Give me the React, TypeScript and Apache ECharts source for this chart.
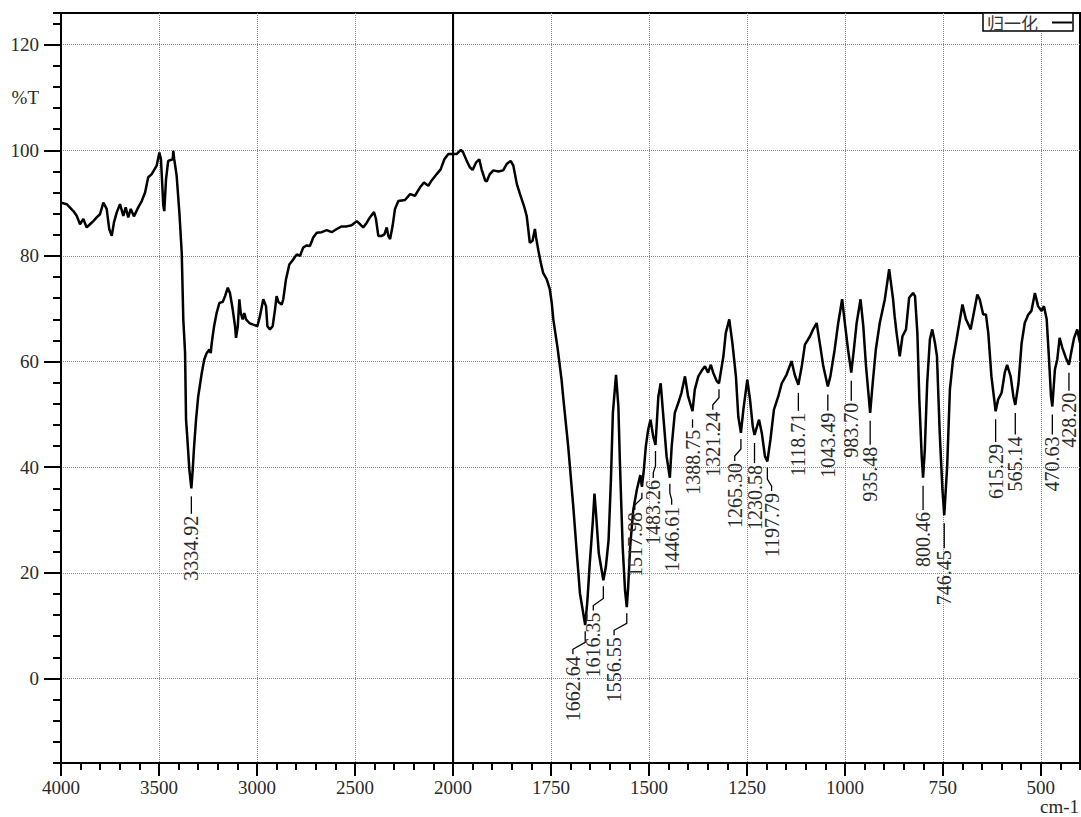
import React, { useEffect, useRef } from 'react';
import * as echarts from 'echarts';

// ---- Spectrum, high wavenumber part (4000 - 2000 cm-1) ----
const wnHigh = [
  4000, 3971, 3937, 3920, 3903, 3886, 3869, 3852, 3835, 3818, 3801, 3784, 3767, 3754, 3741, 3730,
  3716, 3699, 3682, 3670, 3657, 3644, 3628, 3606, 3588, 3571, 3555, 3537, 3512, 3498, 3490, 3478,
  3473, 3464, 3453, 3430, 3427, 3423, 3410, 3396, 3384, 3376, 3367, 3362, 3356, 3345, 3334.92, 3328,
  3321, 3311, 3300, 3282, 3269, 3257, 3243, 3236, 3231, 3219, 3206, 3192, 3175, 3163, 3149, 3138,
  3124, 3112, 3107, 3098, 3090, 3083, 3073, 3065, 3056, 3039, 3019, 2998, 2985, 2968, 2954, 2947,
  2934, 2920, 2908, 2900, 2891, 2874, 2866, 2852, 2835, 2818, 2797, 2781, 2764, 2746, 2730, 2713,
  2695, 2670, 2644, 2619, 2593, 2568, 2542, 2517, 2491, 2474, 2458, 2440, 2424, 2403, 2393, 2381,
  2364, 2350, 2338, 2330, 2321, 2308, 2296, 2279, 2245, 2219, 2194, 2168, 2148, 2126, 2109, 2083,
  2063, 2044, 2024, 2000,
];
const tHigh = [
  90.1, 89.8, 88.5, 87.6, 86.0, 87.0, 85.4, 86.0, 86.6, 87.3, 87.9, 90.1, 88.9, 85.1, 83.8, 86.3,
  88.2, 89.8, 87.6, 89.2, 87.3, 88.9, 87.5, 89.2, 90.4, 92.0, 94.9, 95.5, 97.1, 99.6, 98.3, 89.5,
  88.5, 94.6, 98.0, 98.3, 99.9, 98.5, 95.2, 88.2, 80.6, 68.0, 61.7, 49.0, 45.8, 39.5, 36.0, 39.5,
  43.9, 49.0, 53.4, 57.8, 60.4, 61.6, 62.3, 61.6, 63.5, 66.7, 69.2, 71.1, 71.3, 72.4, 74.0, 73.0,
  69.9, 66.7, 64.5, 66.7, 71.8, 69.2, 68.0, 69.2, 68.0, 67.3, 67.0, 66.7, 68.6, 71.8, 70.5, 66.7,
  66.1, 66.7, 69.9, 72.4, 71.3, 70.8, 71.8, 75.6, 78.4, 79.2, 80.3, 80.0, 81.6, 82.0, 81.9, 83.5,
  84.4, 84.5, 84.9, 84.5, 85.1, 85.6, 85.6, 85.8, 86.6, 86.0, 85.4, 86.3, 87.3, 88.3, 87.0, 83.8,
  83.8, 84.1, 85.4, 83.8, 83.2, 85.7, 88.9, 90.4, 90.6, 91.7, 91.4, 93.0, 93.9, 93.3, 94.3, 95.5,
  96.4, 98.3, 99.3, 99.3,
];

// ---- Spectrum, low wavenumber part (2000 - 400 cm-1) ----
const wnLow = [
  2000, 1991, 1980, 1974, 1965, 1957, 1950, 1941, 1933, 1927, 1918, 1914, 1906, 1897, 1884, 1872,
  1863, 1853, 1846, 1837, 1829, 1819, 1812, 1808, 1804, 1797, 1791, 1788, 1782, 1776, 1770, 1761,
  1753, 1748, 1744, 1733, 1723, 1719, 1706, 1693, 1684, 1676, 1662.64, 1657, 1651, 1643, 1639, 1635,
  1628, 1616.35, 1610, 1603, 1597, 1592, 1584, 1578, 1574, 1567, 1561, 1556.55, 1553, 1548, 1540, 1531,
  1522, 1517.98, 1513, 1508, 1502, 1496, 1489, 1483.26, 1476, 1470, 1464, 1455, 1446.61, 1442, 1434, 1425,
  1417, 1408, 1400, 1388.75, 1383, 1374, 1366, 1357, 1349, 1342, 1336, 1327, 1321.24, 1310, 1304, 1295,
  1287, 1278, 1272, 1265.3, 1259, 1249, 1242, 1235, 1230.58, 1219, 1212, 1204, 1197.79, 1190, 1181, 1170,
  1161, 1149, 1136, 1128, 1118.71, 1110, 1102, 1089, 1081, 1072, 1064, 1055, 1043.49, 1037, 1026, 1017,
  1007, 1000, 992, 983.7, 977, 970, 960, 953, 946, 935.48, 929, 921, 911, 898, 887, 877,
  873, 868, 860, 853, 844, 836, 826, 821, 815, 810, 804, 800.46, 796, 790, 783, 777,
  770, 765, 758, 751, 746.45, 739, 732, 724, 715, 707, 700, 691, 679, 671, 662, 656,
  647, 640, 634, 626, 615.29, 609, 600, 592, 586, 577, 570, 565.14, 557, 549, 541, 532,
  524, 515, 507, 498, 492, 485, 479, 474, 470.63, 464, 458, 452, 445, 436, 428.2, 421,
  415, 407, 400,
];
const tLow = [
  99.3, 99.3, 100.1, 99.6, 98.0, 96.8, 96.3, 97.7, 98.3, 96.4, 94.3, 94.1, 95.5, 96.2, 96.0, 96.2,
  97.4, 98.0, 97.1, 93.6, 91.7, 89.5, 87.6, 85.1, 82.5, 82.9, 85.1, 83.5, 81.0, 78.7, 76.8, 75.6,
  73.7, 71.1, 68.0, 62.5, 56.6, 53.4, 43.9, 32.5, 23.7, 16.1, 10.1, 14.8, 21.8, 30.0, 35.0, 31.2,
  23.7, 18.6, 21.1, 26.2, 37.6, 50.3, 57.5, 51.5, 40.7, 24.9, 16.7, 13.5, 17.3, 24.9, 31.9, 35.7,
  38.5, 36.3, 39.5, 43.9, 47.1, 49.0, 45.8, 44.2, 53.4, 55.9, 50.3, 42.1, 38.0, 43.9, 50.3, 52.2,
  54.1, 57.2, 53.4, 50.6, 54.7, 57.2, 58.2, 59.1, 57.9, 59.4, 57.9, 56.3, 55.9, 61.0, 65.4, 68.0,
  63.5, 57.2, 49.6, 46.5, 50.9, 56.6, 52.8, 47.7, 46.1, 49.0, 46.5, 42.1, 41.1, 45.2, 50.9, 53.4,
  55.9, 57.5, 60.1, 57.5, 55.6, 59.1, 63.2, 64.8, 66.1, 67.3, 63.5, 59.1, 55.3, 57.2, 62.3, 67.3,
  71.8, 67.3, 62.3, 57.9, 62.3, 67.3, 71.8, 66.7, 59.1, 50.3, 55.9, 62.3, 67.3, 71.8, 77.5, 71.8,
  68.6, 65.4, 61.0, 64.8, 66.1, 72.1, 73.0, 72.4, 65.4, 52.8, 42.1, 38.0, 43.3, 55.9, 64.2, 66.1,
  63.5, 61.0, 46.5, 35.7, 30.9, 40.1, 54.7, 60.4, 64.2, 67.7, 70.8, 68.0, 66.1, 69.2, 72.7, 71.8,
  68.9, 68.9, 65.4, 57.2, 50.6, 52.8, 54.1, 57.9, 59.4, 57.2, 53.4, 51.8, 55.9, 63.5, 67.3, 68.9,
  69.6, 73.0, 70.5, 69.6, 70.5, 68.0, 60.4, 53.4, 51.5, 58.5, 60.4, 64.5, 62.6, 60.7, 59.4, 62.3,
  64.5, 66.1, 63.5,
];

// ---- Peak picks ----
const peakWn = [
  3334.92, 1662.64, 1616.35, 1556.55, 1517.98, 1483.26, 1446.61, 1388.75, 1321.24, 1265.3, 1230.58,
  1197.79, 1118.71, 1043.49, 983.7, 935.48, 800.46, 746.45, 615.29, 565.14, 470.63, 428.2,
];
const peakT = [
  36.0, 10.1, 18.6, 13.5, 36.3, 44.2, 38.0, 50.6, 55.9, 46.5, 46.1,
  41.1, 55.6, 55.3, 57.9, 50.3, 38.0, 30.9, 50.6, 51.8, 51.5, 59.4,
];
// where each peak label's text column sits (wavenumber) and where its text ends (%T)
const labelWn = [
  3334.92, 1694, 1642, 1589, 1536, 1489, 1442, 1388.75, 1337, 1281, 1230.58,
  1187, 1118.71, 1043.49, 983.7, 935.48, 800.46, 746.45, 615.29, 565.14, 470.63, 428.2,
];
const labelTopT = [
  30.8, 4.2, 12.5, 7.8, 31.5, 37.6, 32.5, 47.1, 50.5, 40.8, 40.4,
  35.1, 50.3, 50.3, 52.2, 43.9, 31.5, 24.3, 44.4, 45.8, 45.8, 54.1,
];

// ---- Axis ticks ----
const xMajorLow = [2000, 1750, 1500, 1250, 1000, 750, 500];
const yMajor = [0, 20, 40, 60, 80, 100, 120];
const yNameValue = 110;

const FONT = 'Liberation Serif';
const TXT = '#2a2a2a';
const GRIDLINE = { show: true, lineStyle: { color: '#8a8a8a', type: 'dotted' as const, width: 1 } };

function renderPeakLabel(params: any, api: any) {
  const p = api.coord([api.value(0), api.value(1)]);
  const l = api.coord([api.value(2), api.value(3)]);
  const straight = Math.abs(l[0] - p[0]) < 1.5;
  const pts = straight
    ? [[l[0], p[1] + 8], [l[0], l[1] - 2]]
    : [[p[0], p[1] + 6], [p[0], l[1] - 14], [l[0], l[1] - 7], [l[0], l[1] - 2]];
  return {
    type: 'group',
    children: [
      { type: 'polyline', shape: { points: pts }, style: { stroke: '#000', lineWidth: 1.3, fill: 'none' } },
      {
        type: 'text',
        x: l[0],
        y: l[1],
        rotation: Math.PI / 2,
        style: {
          text: Number(api.value(0)).toFixed(2),
          align: 'right',
          verticalAlign: 'middle',
          fontFamily: FONT,
          fontSize: 20,
          fill: TXT,
        },
      },
    ],
  };
}

export default function App() {
  const ref = useRef<HTMLDivElement>(null);
  useEffect(() => {
    if (!ref.current) return;
    const chart = echarts.init(ref.current, undefined, { renderer: 'svg' });
    const highData = wnHigh.map((w, i) => [w, tHigh[i]]);
    const lowData = wnLow.map((w, i) => [w, tLow[i]]);
    const labelsHigh: number[][] = [];
    const labelsLow: number[][] = [];
    peakWn.forEach((w, i) => {
      const row = [w, peakT[i], labelWn[i], labelTopT[i]];
      if (w > 2000) labelsHigh.push(row); else labelsLow.push(row);
    });
    const gridCommon = { top: 13, bottom: 54, show: true, borderColor: '#000', borderWidth: 2, containLabel: false };
    const axisLineX = { show: true, onZero: false, lineStyle: { color: '#000', width: 2 } };
    const tickLabel = { color: TXT, fontFamily: FONT, fontSize: 19, formatter: (v: number) => String(v) };
    chart.setOption({
      animation: false,
      backgroundColor: '#fff',
      grid: [
        { ...gridCommon, left: 61, width: 392 },
        { ...gridCommon, left: 453, width: 627 },
      ],
      xAxis: [
        {
          type: 'value', gridIndex: 0, position: 'bottom', min: 2000, max: 4000, inverse: true, interval: 500,
          axisLine: axisLineX,
          axisTick: { show: true, length: 13, lineStyle: { color: '#000', width: 2 } },
          minorTick: { show: true, splitNumber: 5, length: 7, lineStyle: { color: '#000', width: 2 } },
          axisLabel: { ...tickLabel, margin: 15, showMinLabel: false },
          splitLine: GRIDLINE,
        },
        {
          type: 'value', gridIndex: 1, position: 'bottom', min: 400, max: 2000, inverse: true, interval: 50,
          axisLine: axisLineX,
          axisTick: { show: true, length: 7, lineStyle: { color: '#000', width: 2 } },
          axisLabel: { show: false },
          splitLine: { show: false },
        },
        {
          type: 'value', gridIndex: 1, position: 'bottom', min: 400, max: 2000, inverse: true,
          axisLine: { show: false, onZero: false },
          axisTick: { show: true, length: 13, customValues: xMajorLow, lineStyle: { color: '#000', width: 2 } },
          axisLabel: { ...tickLabel, margin: 15, customValues: xMajorLow },
          splitLine: GRIDLINE,
        },
      ],
      yAxis: [
        {
          type: 'value', gridIndex: 0, position: 'left', min: -16, max: 126,
          axisLine: { show: true, onZero: false, lineStyle: { color: '#000', width: 2 } },
          axisTick: { show: true, length: 17, customValues: yMajor, lineStyle: { color: '#000', width: 2 } },
          axisLabel: {
            ...tickLabel, margin: 22, customValues: [...yMajor, yNameValue],
            formatter: (v: number) => (v === yNameValue ? '%T' : String(v)),
          },
          splitLine: GRIDLINE,
        },
        {
          type: 'value', gridIndex: 0, position: 'left', min: -16, max: 126, interval: 4,
          axisLine: { show: false, onZero: false },
          axisTick: { show: true, length: 8, lineStyle: { color: '#000', width: 2 } },
          axisLabel: { show: false },
          splitLine: { show: false },
        },
        {
          type: 'value', gridIndex: 1, position: 'left', min: -16, max: 126,
          axisLine: { show: true, onZero: false, lineStyle: { color: '#000', width: 1.2 } },
          axisTick: { show: false, customValues: yMajor },
          axisLabel: { show: false, customValues: yMajor },
          splitLine: GRIDLINE,
        },
      ],
      legend: {
        data: [{ name: '归一化', icon: 'rect' }],
        right: 8,
        top: 13,
        align: 'right',
        padding: [1, 1, 0, 4],
        itemWidth: 20,
        itemHeight: 2,
        itemStyle: { color: '#000' },
        borderColor: '#000',
        borderWidth: 1.5,
        backgroundColor: '#fff',
        textStyle: { fontFamily: 'Noto Sans CJK SC', fontSize: 17, color: '#333', padding: [0, 9, 0, 0] },
      },
      graphic: [
        { type: 'text', right: 2, top: 797, style: { text: 'cm-1', fontFamily: FONT, fontSize: 19, fill: TXT } },
      ],
      series: [
        {
          name: '归一化', type: 'line', xAxisIndex: 0, yAxisIndex: 0, data: highData,
          symbol: 'none', showSymbol: false, lineStyle: { color: '#000', width: 2.5 }, itemStyle: { color: '#000' }, z: 3,
        },
        {
          name: '归一化', type: 'line', xAxisIndex: 1, yAxisIndex: 2, data: lowData,
          symbol: 'none', showSymbol: false, lineStyle: { color: '#000', width: 2.5 }, itemStyle: { color: '#000' }, z: 3,
        },
        {
          type: 'custom', xAxisIndex: 0, yAxisIndex: 0, data: labelsHigh, renderItem: renderPeakLabel,
          encode: { x: [0, 2], y: [1, 3] }, z: 4,
        },
        {
          type: 'custom', xAxisIndex: 1, yAxisIndex: 2, data: labelsLow, renderItem: renderPeakLabel,
          encode: { x: [0, 2], y: [1, 3] }, z: 4,
        },
      ],
    });
    return () => chart.dispose();
  }, []);
  return <div ref={ref} style={{ position: 'absolute', left: 0, top: 0, width: 1081, height: 817 }} />;
}
